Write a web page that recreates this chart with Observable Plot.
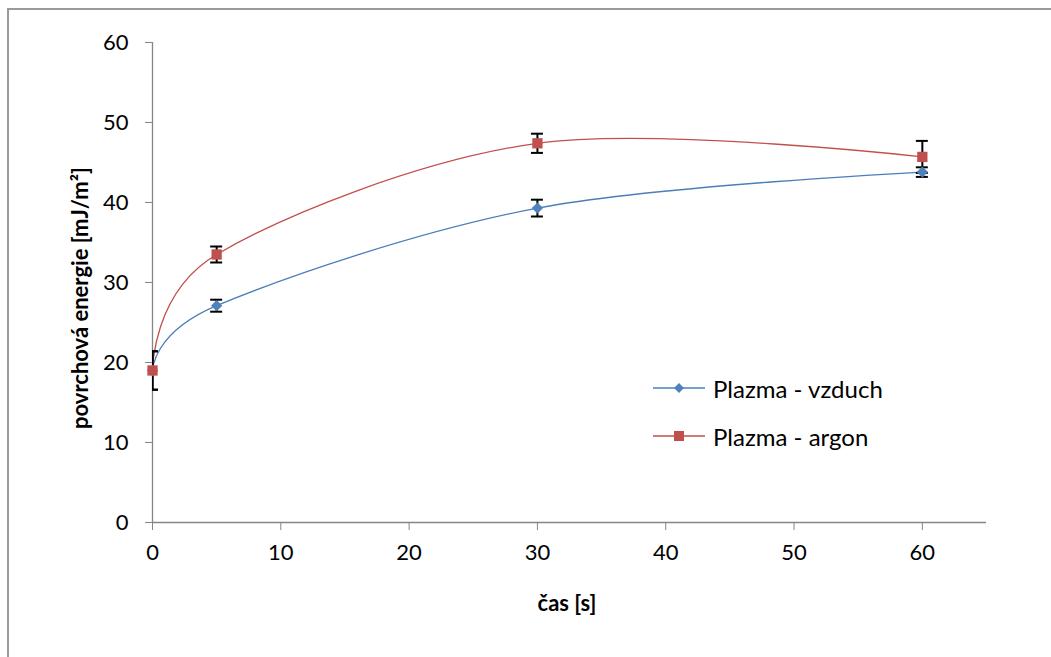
<!DOCTYPE html>
<html>
<head>
<meta charset="utf-8">
<script src="https://cdn.jsdelivr.net/npm/d3@7"></script>
<script src="https://cdn.jsdelivr.net/npm/@observablehq/plot@0.6"></script>
<style>
  html, body { margin: 0; padding: 0; background: #fff; }
  #wrap { position: relative; width: 1051px; height: 657px; overflow: hidden; font-family: Lato, sans-serif; }
  #frame { position: absolute; left: 7px; top: 8px; width: 1200px; height: 800px; border-left: 2px solid #9a9a9a; border-top: 2px solid #9a9a9a; pointer-events: none; }
  #chart { position: absolute; left: 0; top: 0; }
  .leg { position: absolute; left: 650px; height: 30px; display: flex; align-items: center; font-size: 24px; color: #000; }
  .leg svg { margin-right: 7px; }
  .title { position: absolute; font-weight: bold; font-size: 22px; color: #000; white-space: nowrap; line-height: 1; }
  #xtitle { left: 567px; top: 603px; transform: translate(-50%, -50%); }
  #ytitle { left: 80px; top: 298px; transform: translate(-50%, -50%) rotate(-90deg); }
</style>
</head>
<body>
<div id="wrap">
  <div id="chart"></div>
  <div id="frame"></div>
  <div id="legend"></div>
  <div class="title" id="xtitle"></div>
  <div class="title" id="ytitle"></div>
</div>
<script>
const times = [0, 5, 30, 60];
const seriesNames = ["Plazma - vzduch", "Plazma - argon"];
const vzduch = [19.0, 27.1, 39.3, 43.8];
const vzduchErr = [2.4, 0.75, 1.05, 0.6];
const argon = [19.0, 33.5, 47.4, 45.7];
const argonErr = [2.4, 1.0, 1.2, 2.0];
const xTicks = [0, 10, 20, 30, 40, 50, 60];
const yTicks = [0, 10, 20, 30, 40, 50, 60];
const xTitle = "čas [s]";
const yTitle = "povrchová energie [mJ/m²]";
const colors = ["#4A7EBB", "#C0504D"];
const markerColors = ["#4F81BD", "#C0504D"];

const data = [];
[[vzduch, vzduchErr], [argon, argonErr]].forEach(([vals, errs], si) => {
  times.forEach((t, i) => data.push({series: seriesNames[si], t, v: vals[i], e: errs[i]}));
});
const dataV = data.filter(d => d.series === seriesNames[0]);
const dataA = data.filter(d => d.series === seriesNames[1]);

const chart = Plot.plot({
  width: 1051,
  height: 657,
  marginLeft: 152,
  marginRight: 65,
  marginTop: 42,
  marginBottom: 135,
  style: {fontFamily: "Lato, sans-serif", fontSize: "22px", background: "transparent", color: "#000"},
  x: {domain: [0, 65]},
  y: {domain: [0, 60]},
  color: {domain: seriesNames, range: colors},
  marks: [
    Plot.ruleY([0], {stroke: "#868686", strokeWidth: 1.3}),
    Plot.ruleX([0], {stroke: "#868686", strokeWidth: 1.3}),
    Plot.axisY({ticks: yTicks, tickSize: 7, tickPadding: 17, stroke: "#868686", fill: "#000", fontSize: 22, label: null, tickFormat: d3.format("d")}),
    Plot.axisX({ticks: xTicks, tickSize: 8, tickPadding: 14, stroke: "#868686", fill: "#000", fontSize: 22, label: null, tickFormat: d3.format("d")}),
    Plot.line(data, {x: "t", y: "v", z: "series", stroke: "series", strokeWidth: 1.3, curve: "cardinal"}),
    Plot.ruleX(data, {x: "t", y1: d => d.v - d.e, y2: d => d.v + d.e, stroke: "#000", strokeWidth: 2, clip: "frame"}),
    Plot.ruleY(data, {y: d => d.v - d.e, x1: "t", x2: "t", insetLeft: -6, insetRight: -6, stroke: "#000", strokeWidth: 2, clip: "frame"}),
    Plot.ruleY(data, {y: d => d.v + d.e, x1: "t", x2: "t", insetLeft: -6, insetRight: -6, stroke: "#000", strokeWidth: 2, clip: "frame"}),
    Plot.dot(dataV, {x: "t", y: "v", symbol: "diamond2", fill: markerColors[0], r: 5.1, stroke: "none"}),
    Plot.dot(dataA, {x: "t", y: "v", symbol: "square", fill: markerColors[1], r: 5.8, stroke: "none"})
  ]
});
document.getElementById("chart").appendChild(chart);
document.getElementById("xtitle").textContent = xTitle;
document.getElementById("ytitle").textContent = yTitle;

// legend
const legend = document.getElementById("legend");
const legTops = [373, 421];
seriesNames.forEach((name, i) => {
  const row = document.createElement("div");
  row.className = "leg";
  row.style.top = legTops[i] + "px";
  const sym = i === 0
    ? `<polygon points="29,20 34,25 29,30 24,25" fill="${markerColors[i]}"/>`
    : `<rect x="24" y="20" width="10" height="10" fill="${markerColors[i]}"/>`;
  row.innerHTML = `<svg width="56" height="30" viewBox="0 10 56 30" style="overflow:visible"><line x1="3" x2="55" y1="25" y2="25" stroke="${colors[i]}" stroke-width="1.3"/>${sym}</svg><span>${name}</span>`;
  legend.appendChild(row);
});
</script>
</body>
</html>
